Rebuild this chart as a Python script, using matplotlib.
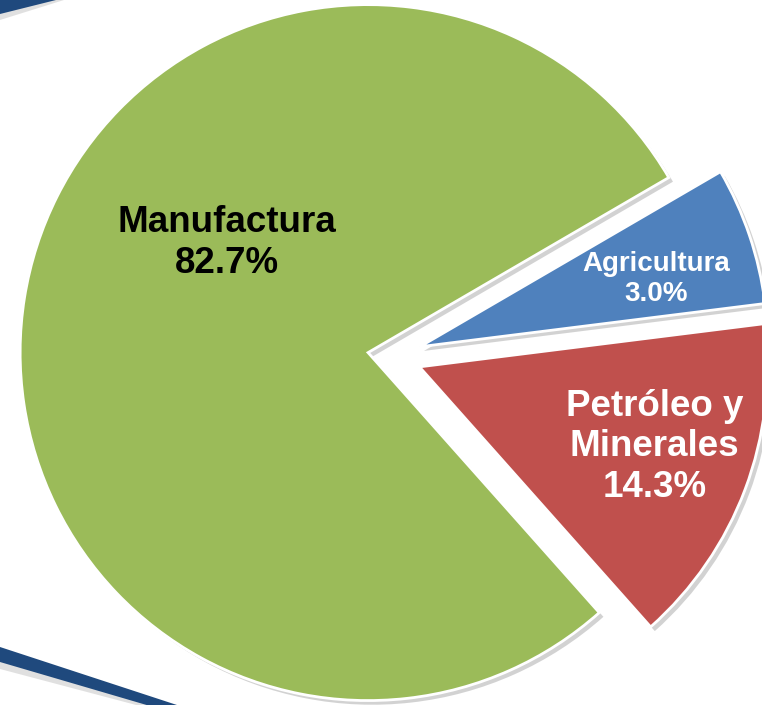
import matplotlib.pyplot as plt
import matplotlib.patheffects as pe
from matplotlib.patches import Polygon

# slice sizes as drawn in the picture (share of the circle), printed labels
sectores = ['Manufactura', 'Petróleo y\nMinerales', 'Agricultura']
tamanos = [78.1, 15.4, 6.4]
etiquetas = ['82.7%', '14.3%', '3.0%']
colores = ['#9BBB59', '#C0504D', '#4F81BD']
color_texto = ['black', 'white', 'white']
tam_texto = [26.5, 26.5, 20]
pos_texto = [(-0.473, 0.326), (0.756, -0.260), (0.760, 0.223)]

plt.rcParams['font.family'] = ['Liberation Sans', 'DejaVu Sans']

fig = plt.figure(figsize=(7.62, 7.05), dpi=100)
fig.patch.set_facecolor('white')

# decoration layer in pixel units (slide frame bands)
deco = fig.add_axes([0, 0, 1, 1])
deco.set_xlim(0, 762)
deco.set_ylim(705, 0)
deco.axis('off')
sombra = '#9a9a9a'
deco.add_patch(Polygon([(0, 0), (64, 0), (0, 20)], closed=True, color=sombra, alpha=0.3, lw=0))
deco.add_patch(Polygon([(0, 0), (56, 0), (0, 14)], closed=True, color='#1F497D', lw=0))
deco.add_patch(Polygon([(0, 650), (190, 710), (155, 710), (0, 669)], closed=True, color=sombra, alpha=0.3, lw=0))
deco.add_patch(Polygon([(0, 647), (180, 706), (150, 706), (0, 662)], closed=True, color='#1F497D', lw=0))

ax = fig.add_axes([0, 0, 1, 1])
ax.patch.set_alpha(0)
wedges, _ = ax.pie(tamanos, colors=colores, startangle=30.2, radius=1.0,
                   explode=[0.068, 0.086, 0.086],
                   wedgeprops=dict(edgecolor='white', linewidth=2))
for w in wedges:
    w.set_path_effects([pe.SimplePatchShadow(offset=(3, -3), shadow_rgbFace='#808080', alpha=0.35),
                        pe.Normal()])

for nombre, et, (x, y), c, s in zip(sectores, etiquetas, pos_texto, color_texto, tam_texto):
    ax.text(x, y, nombre + '\n' + et, ha='center', va='center', fontsize=s,
            fontweight='bold', color=c, linespacing=1.2)

ax.set_xlim(-1.125, 1.065)
ax.set_ylim(-1.002, 1.024)
ax.set_aspect('auto')
ax.axis('off')

fig.savefig('out.png', dpi=100)
